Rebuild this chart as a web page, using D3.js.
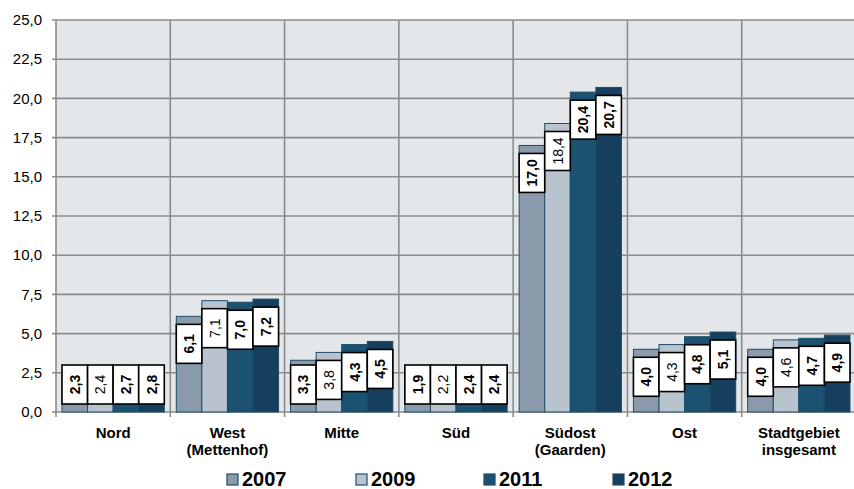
<!DOCTYPE html>
<html><head><meta charset="utf-8">
<script src="https://cdn.jsdelivr.net/npm/d3@7"></script>
<style>body{margin:0;background:#fff}svg{display:block}svg text{font-family:"Liberation Sans",Arial,sans-serif}</style>
</head><body><svg id="c" width="854" height="489"></svg>
<script>
const categories = [["Nord"],["West","(Mettenhof)"],["Mitte"],["Süd"],["Südost","(Gaarden)"],["Ost"],["Stadtgebiet","insgesamt"]];
const seriesNames = ["2007","2009","2011","2012"];
const v2007 = [2.3,6.1,3.3,1.9,17.0,4.0,4.0];
const v2009 = [2.4,7.1,3.8,2.2,18.4,4.3,4.6];
const v2011 = [2.7,7.0,4.3,2.4,20.4,4.8,4.7];
const v2012 = [2.8,7.2,4.5,2.4,20.7,5.1,4.9];
const yTicks = [0,2.5,5,7.5,10,12.5,15,17.5,20,22.5,25];
const colors = ["#8a9aab","#b9c3cd","#1b5171","#153f5c"];
const labelBold = [true,false,true,true];

const values = [v2007,v2009,v2011,v2012];
const svg = d3.select("#c");
const L=56, R=856, T=20, B=412;
const x0 = d3.scaleBand().domain(d3.range(categories.length)).range([L,R]).paddingInner(0).paddingOuter(0);
const x1 = d3.scaleBand().domain(d3.range(seriesNames.length)).range([0,x0.bandwidth()]).paddingOuter(0.235).paddingInner(0);
const y = d3.scaleLinear().domain([0,25]).range([B,T]);
const fmt = v => d3.format(".1f")(v).replace(".",",");

svg.append("rect").attr("x",L).attr("y",T).attr("width",R-L).attr("height",B-T).attr("fill","#e4e7ea");
const g = svg.append("g");
g.selectAll(".hg").data(yTicks).join("line").attr("x1",L-4).attr("x2",R).attr("y1",d=>y(d)).attr("y2",d=>y(d)).attr("stroke","#8c8c8c").attr("stroke-width",1.6);
const bounds = d3.range(categories.length+1).map(i=>L+i*x0.bandwidth());
g.selectAll(".vg").data(bounds).join("line").attr("x1",d=>d).attr("x2",d=>d).attr("y1",T).attr("y2",B+5).attr("stroke","#8c8c8c").attr("stroke-width",1.6);
g.selectAll(".yl").data(yTicks).join("text").attr("x",42).attr("y",d=>y(d)).attr("dy","0.35em").attr("text-anchor","end").attr("font-size",15).attr("fill","#000").text(fmt);

values.forEach((vals,s)=>{
  svg.append("g").selectAll("rect").data(vals).join("rect")
    .attr("x",(d,i)=>x0(i)+x1(s)).attr("width",x1.bandwidth())
    .attr("y",d=>y(d)).attr("height",d=>B-y(d))
    .attr("fill",colors[s]).attr("stroke","#1d4d6b").attr("stroke-width",1);
});
const bh=39;
values.forEach((vals,s)=>{
  const lg = svg.append("g");
  vals.forEach((d,i)=>{
    const bx = x0(i)+x1(s), bw=x1.bandwidth();
    let top = Math.min(y(d)+8, B-8-bh);
    lg.append("rect").attr("x",bx).attr("y",top).attr("width",bw).attr("height",bh).attr("fill","#fff").attr("stroke","#000").attr("stroke-width",1.6);
    lg.append("text").attr("transform",`translate(${bx+bw/2},${top+bh/2}) rotate(-90)`)
      .attr("text-anchor","middle").attr("dy","0.36em").attr("font-size",14)
      .attr("font-weight",labelBold[s]?"bold":"normal").attr("fill","#000").text(fmt(d));
  });
});
categories.forEach((c,i)=>{
  const cx = x0(i)+x0.bandwidth()/2;
  const t = svg.append("text").attr("x",cx).attr("y",438).attr("text-anchor","middle").attr("font-size",15).attr("font-weight","bold");
  c.forEach((line,k)=>t.append("tspan").attr("x",cx).attr("dy",k?17:0).text(line));
});
const lx=[227,356,484,613];
seriesNames.forEach((n,s)=>{
  svg.append("rect").attr("x",lx[s]).attr("y",474).attr("width",11).attr("height",11).attr("fill",colors[s]).attr("stroke","#1d4d6b").attr("stroke-width",1.2);
  svg.append("text").attr("x",lx[s]+15).attr("y",486).attr("font-size",20).attr("font-weight","bold").text(n);
});
</script></body></html>
